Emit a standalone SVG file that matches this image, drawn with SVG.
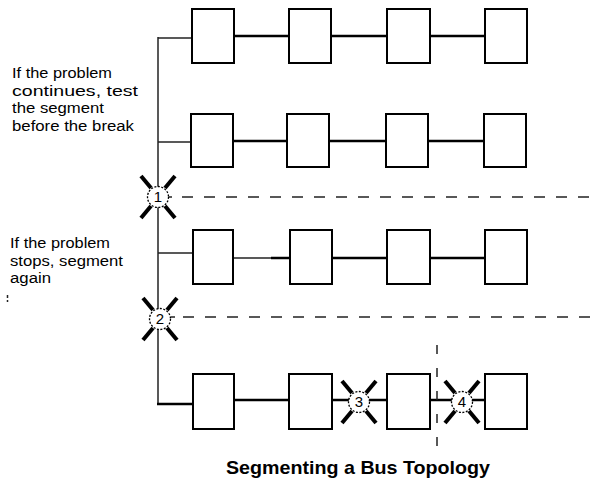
<svg xmlns="http://www.w3.org/2000/svg" width="598" height="479" viewBox="0 0 598 479">
<style>
.box{fill:#fff;stroke:#000;stroke-width:2}
.bus{stroke:#000;stroke-width:2.5;fill:none}
.thin{stroke:#222;stroke-width:1.5;fill:none}
.dash{stroke:#222;stroke-width:1.5;stroke-dasharray:11 11;fill:none}
.note{font-family:"Liberation Sans",Arial,sans-serif;font-size:15.5px;fill:#000}
.title{font-family:"Liberation Sans",Arial,sans-serif;font-size:18.5px;font-weight:bold;fill:#000}
.arm{stroke:#000;stroke-width:4;stroke-linecap:butt}
.ring{fill:#fff;stroke:#000;stroke-width:1.3;stroke-dasharray:2 1.5}
.num{font-family:"Liberation Sans",Arial,sans-serif;font-size:15px;fill:#000;text-anchor:middle}
</style>
<defs>
<g id="brk">
<line class="arm" x1="-17" y1="-21" x2="-7" y2="-9"/>
<line class="arm" x1="17" y1="-21" x2="7" y2="-9"/>
<line class="arm" x1="-17" y1="21" x2="-7" y2="9"/>
<line class="arm" x1="17" y1="21" x2="7" y2="9"/>
<circle class="ring" r="10.5"/>
</g>
</defs>
<rect width="598" height="479" fill="#fff"/>
<g id="connectors">
<line class="thin" x1="158" y1="37" x2="158" y2="405"/>
<line class="thin" x1="158" y1="38" x2="192" y2="38"/>
<line class="thin" x1="158" y1="142" x2="191" y2="142"/>
<line class="thin" x1="158" y1="253" x2="193" y2="253"/>
<line class="bus" x1="157" y1="404" x2="193" y2="404"/>
<line class="bus" x1="234" y1="36" x2="289" y2="36"/>
<line class="bus" x1="331" y1="36" x2="387" y2="36"/>
<line class="bus" x1="430" y1="36" x2="485" y2="36"/>
<line class="bus" x1="233" y1="141" x2="287" y2="141"/>
<line class="bus" x1="329" y1="141" x2="386" y2="141"/>
<line class="bus" x1="428" y1="141" x2="484" y2="141"/>
<line class="thin" x1="233" y1="258" x2="272" y2="258"/>
<line class="bus" x1="271" y1="258" x2="290" y2="258"/>
<line class="bus" x1="332" y1="258" x2="387" y2="258"/>
<line class="bus" x1="430" y1="258" x2="485" y2="258"/>
<line class="bus" x1="234" y1="400" x2="289" y2="400"/>
<line class="bus" x1="332" y1="400" x2="387" y2="400"/>
<line class="bus" x1="430" y1="400" x2="485" y2="400"/>
<line class="dash" x1="182" y1="197" x2="598" y2="197"/>
<line class="dash" x1="183" y1="317" x2="598" y2="317"/>
<line class="thin" x1="168" y1="197" x2="172" y2="197"/>
<line class="thin" x1="171" y1="317" x2="175" y2="317"/>
<line class="thin" x1="437" y1="345" x2="437" y2="447" style="stroke-dasharray:9 14"/>
<line class="thin" x1="7.5" y1="295" x2="7.5" y2="302" style="stroke-dasharray:3 2"/>
</g>
<g id="row1">
<rect class="box" x="192" y="9" width="42" height="54"/>
<rect class="box" x="289" y="9" width="42" height="54"/>
<rect class="box" x="387" y="9" width="43" height="54"/>
<rect class="box" x="485" y="9" width="42" height="54"/>
</g>
<g id="row2">
<rect class="box" x="191" y="114" width="42" height="53"/>
<rect class="box" x="287" y="114" width="42" height="53"/>
<rect class="box" x="386" y="114" width="42" height="53"/>
<rect class="box" x="484" y="114" width="42" height="53"/>
</g>
<g id="row3">
<rect class="box" x="193" y="230" width="40" height="54"/>
<rect class="box" x="290" y="230" width="42" height="54"/>
<rect class="box" x="387" y="230" width="43" height="54"/>
<rect class="box" x="485" y="230" width="42" height="54"/>
</g>
<g id="row4">
<rect class="box" x="193" y="374" width="41" height="55"/>
<rect class="box" x="289" y="374" width="43" height="55"/>
<rect class="box" x="387" y="374" width="43" height="55"/>
<rect class="box" x="485" y="374" width="42" height="55"/>
</g>
<g id="break1"><use href="#brk" x="158" y="197"/><text class="num" x="158" y="202">1</text></g>
<g id="break2"><use href="#brk" x="160" y="319"/><text class="num" x="160" y="324">2</text></g>
<g id="break3"><use href="#brk" x="359" y="402"/><text class="num" x="359" y="407">3</text></g>
<g id="break4"><use href="#brk" x="462" y="402"/><text class="num" x="462" y="407">4</text></g>
<g id="note1">
<text class="note" x="12" y="78" textLength="100" lengthAdjust="spacingAndGlyphs">If the problem</text>
<text class="note" x="12" y="95.5" textLength="126" lengthAdjust="spacingAndGlyphs">continues, test</text>
<text class="note" x="12" y="113" textLength="92" lengthAdjust="spacingAndGlyphs">the segment</text>
<text class="note" x="12" y="130.5" textLength="122" lengthAdjust="spacingAndGlyphs">before the break</text>
</g>
<g id="note2">
<text class="note" x="10" y="248" textLength="100" lengthAdjust="spacingAndGlyphs">If the problem</text>
<text class="note" x="10" y="265.5" textLength="113" lengthAdjust="spacingAndGlyphs">stops, segment</text>
<text class="note" x="10" y="283" textLength="41" lengthAdjust="spacingAndGlyphs">again</text>
</g>
<g id="caption"><text class="title" x="226" y="474" textLength="264" lengthAdjust="spacingAndGlyphs">Segmenting a Bus Topology</text></g>
</svg>
